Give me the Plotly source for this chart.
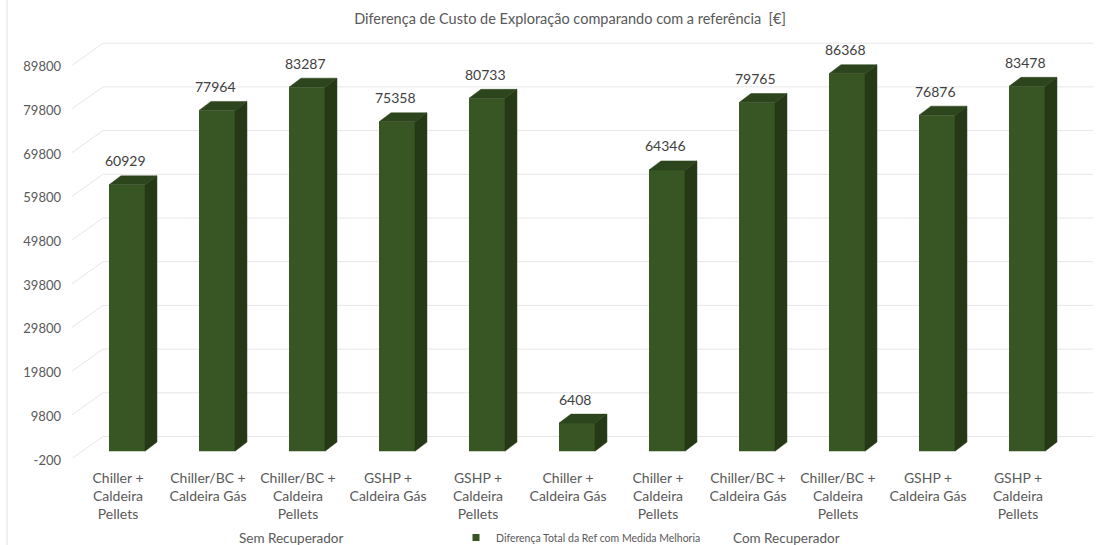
import plotly.graph_objects as go

# ---- data ----
categories = [
    "Chiller +<br>Caldeira<br>Pellets",
    "Chiller/BC +<br>Caldeira Gás",
    "Chiller/BC +<br>Caldeira<br>Pellets",
    "GSHP +<br>Caldeira Gás",
    "GSHP +<br>Caldeira<br>Pellets",
    "Chiller +<br>Caldeira Gás",
    "Chiller +<br>Caldeira<br>Pellets",
    "Chiller/BC +<br>Caldeira Gás",
    "Chiller/BC +<br>Caldeira<br>Pellets",
    "GSHP +<br>Caldeira Gás",
    "GSHP +<br>Caldeira<br>Pellets",
]
groups = ["Sem Recuperador"] * 5 + ["Com Recuperador"] * 6
values = [60929, 77964, 83287, 75358, 80733, 6408, 64346, 79765, 86368, 76876, 83478]
y_ticks = [-200, 9800, 19800, 29800, 39800, 49800, 59800, 69800, 79800, 89800]
series_name = "Diferença Total da Ref com Medida Melhoria"
title_text = "Diferença de Custo de Exploração comparando com a referência  [€]"

# ---- style / geometry ----
FONT = "Lato"
TXT = "#595959"
FRONT = "rgb(55,86,35)"
SIDE = "rgb(37,57,23)"
TOP = "rgb(44,69,28)"
GRID = "#e6e6e6"
W, H = 1118, 545
ML, MR, MT, MB = 65, 18, 20, 87
XR = [-0.6889, 10.8111]
YR = [-1573, 98656]
BW = 0.4          # front width (x units)
DX = 0.133        # depth offset x (x units)
DY = 2060         # depth offset y (value units)
BACK = 3550       # back wall offset (value units)
SLX0, SLX1, XEND = -0.611, -0.267, 10.733
BOTTOM_ROW = (458 - 537.5) / (H - MT - MB)   # paper y of group labels / legend

fig = go.Figure()

# gridlines (floor-slant + back wall) as shapes below traces
shapes = []
for t in y_ticks:
    shapes.append(dict(type="line", xref="x", yref="y", x0=SLX0, y0=t - 1490, x1=SLX1, y1=t + BACK,
                       line=dict(color=GRID, width=1), layer="below"))
    shapes.append(dict(type="line", xref="x", yref="y", x0=SLX1, y0=t + BACK, x1=XEND, y1=t + BACK,
                       line=dict(color=GRID, width=1), layer="below"))
shapes.append(dict(type="line", xref="paper", yref="paper", x0=(7 - ML) / (W - ML - MR),
                   x1=(7 - ML) / (W - ML - MR), y0=-0.2, y1=1.05,
                   line=dict(color="#e0e0e0", width=1), layer="below"))

n = len(values)
xs = list(range(n))

# front faces
fig.add_trace(go.Bar(x=xs, y=values, width=BW, marker=dict(color=FRONT, line=dict(width=0)),
                     name=series_name, showlegend=False))
# side faces
sx, sy = [], []
for i, v in zip(xs, values):
    r = i + BW / 2
    sx += [r, r + DX, r + DX, r, r, None]
    sy += [0, DY, v + DY, v, 0, None]
fig.add_trace(go.Scatter(x=sx, y=sy, mode="lines", fill="toself", fillcolor=SIDE,
                         line=dict(color=SIDE, width=0.5), hoverinfo="skip", showlegend=False))
# top faces
tx, ty = [], []
for i, v in zip(xs, values):
    l, r = i - BW / 2, i + BW / 2
    tx += [l, r, r + DX, l + DX, l, None]
    ty += [v, v, v + DY, v + DY, v, None]
fig.add_trace(go.Scatter(x=tx, y=ty, mode="lines", fill="toself", fillcolor=TOP,
                         line=dict(color=TOP, width=0.5), hoverinfo="skip", showlegend=False))
# legend entry
fig.add_trace(go.Scatter(x=[None], y=[None], mode="markers", name=series_name,
                         marker=dict(symbol="square", size=7, color=FRONT), showlegend=True))

# value labels
for i, v in zip(xs, values):
    fig.add_annotation(x=i, y=v, text=str(v), showarrow=False, yanchor="middle", yshift=24,
                       xshift=-2, font=dict(family=FONT, size=14, color="#404040"))

# group labels
for g in dict.fromkeys(groups):
    idx = [i for i, gg in enumerate(groups) if gg == g]
    fig.add_annotation(x=sum(idx) / len(idx), y=BOTTOM_ROW, yref="paper", text=g, showarrow=False,
                       xshift=-16, yanchor="middle", font=dict(family=FONT, size=13.5, color=TXT))

fig.update_layout(
    width=W, height=H,
    margin=dict(l=ML, r=MR, t=MT, b=MB, autoexpand=False),
    paper_bgcolor="white", plot_bgcolor="white",
    title=dict(text=title_text, x=570 / W, xref="container", xanchor="center",
               y=1 - 19 / H, yref="container", yanchor="middle",
               font=dict(family=FONT, size=14.5, color=TXT)),
    xaxis=dict(range=XR, tickmode="array", tickvals=xs, ticktext=categories,
               showgrid=False, zeroline=False, showline=False, ticks="", automargin=False,
               ticklabelshift=-9, ticklabelstandoff=10,
               tickfont=dict(family=FONT, size=14, color=TXT)),
    yaxis=dict(range=YR, tickmode="array", tickvals=y_ticks,
               ticktext=[str(t) for t in y_ticks], automargin=False,
               showgrid=False, zeroline=False, showline=False, ticks="",
               ticklabelshift=8, ticklabelstandoff=3,
               tickfont=dict(family=FONT, size=13, color=TXT)),
    legend=dict(orientation="h", x=(581 - ML) / (W - ML - MR), xanchor="center",
                y=BOTTOM_ROW, yanchor="middle", font=dict(family=FONT, size=10.5, color=TXT),
                itemwidth=30, bgcolor="rgba(0,0,0,0)"),
    shapes=shapes,
)

fig.write_html("out.html", post_script="document.body.style.margin='0';",
               config={"displayModeBar": False})
